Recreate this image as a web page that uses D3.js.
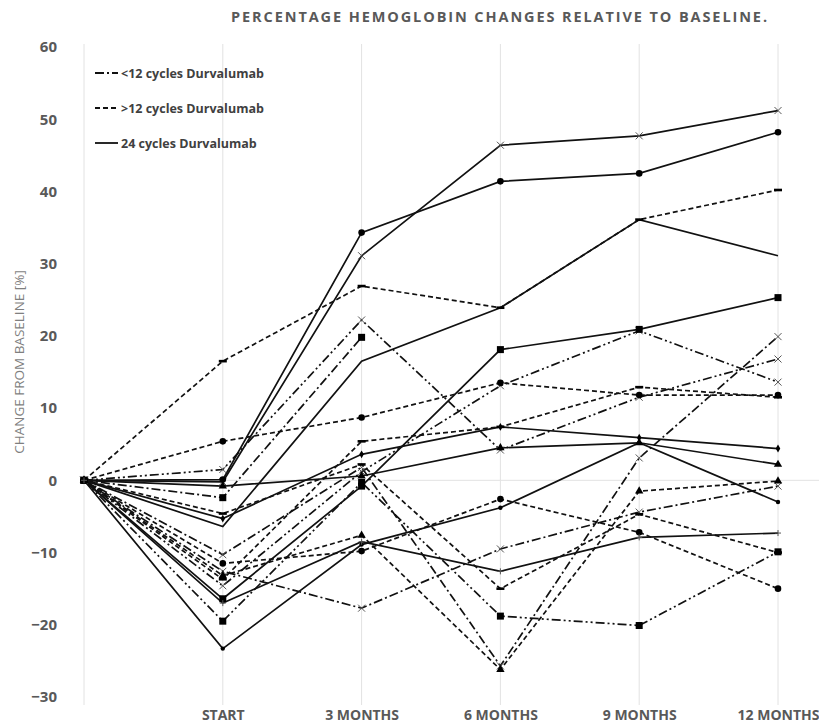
<!DOCTYPE html>
<html>
<head>
<meta charset="utf-8">
<script src="https://cdn.jsdelivr.net/npm/d3@7"></script>
<style>
  body { margin: 0; background: #fff; }
  svg { display: block; }
  text { font-family: "Open Sans", "Liberation Sans", sans-serif; }
</style>
</head>
<body>
<div id="plot"></div>
<script>
// categories on the x axis (first one is the baseline, no label)
var categories = ["BASE", "START", "3 MONTHS", "6 MONTHS", "9 MONTHS", "12 MONTHS"];
var yTicks = [-30, -20, -10, 0, 10, 20, 30, 40, 50, 60];
var legendLabels = ["<12 cycles Durvalumab", ">12 cycles Durvalumab", "24 cycles Durvalumab"];

// % change from baseline per patient: [base, start, 3m, 6m, 9m, 12m]
var lessThan12 = [
    [0, -2.4, 19.8, null, null, null],
    [0, 1.5, 22.2, 4.2, 11.5, 16.8],
    [0, -10.3, 1.8, -25.7, 3.1, 19.9],
    [0, -19.5, -0.3, -18.8, -20.1, -9.9],
    [0, -12.6, -17.7, -9.5, -4.4, -0.8],
    [0, -14.6, 1.2, 13.1, 20.7, 13.6]
];
var moreThan12 = [
    [0, 16.5, 26.9, 23.9, 36.1, 40.2],
    [0, 5.4, 8.7, 13.5, 11.8, 11.8],
    [0, -13.7, 5.4, 7.4, 12.9, 11.5],
    [0, -11.5, -9.8, -2.6, -7.2, -15],
    [0, -4.6, 2.2, -15, -4.7, -10],
    [0, -13.2, -7.6, -26.2, -1.5, -0.1]
];
var cycles24 = [
    [0, -0.2, 31.1, 46.4, 47.7, 51.2],
    [0, 0.1, 34.3, 41.4, 42.5, 48.2],
    [0, -6.4, 16.5, 23.9, 36.1, 31.1],
    [0, -16.4, -0.8, 18.1, 20.9, 25.3],
    [0, -5.3, 3.6, 7.4, 5.9, 4.4],
    [0, -0.8, 0.6, 4.5, 5.2, 2.2],
    [0, -23.3, -8.9, -3.8, 5.2, -3.0],
    [0, -17, -8.5, -12.6, -7.9, -7.3]
];

// look of each patient line (style only)
var lessMarks = ["square", "x", "x", "square", "x", "x"];
var lessDash = ["9,3,2,3", "9,3,2,3,2,3", "9,3,2,3", "9,3,2,3,2,3", "9,3,2,3", "9,3,2,3,2,3"];
var moreMarks = ["dash", "circle", "dash", "circle", "dash", "triangle"];
var solidMarks = ["x", "circle", "none", "square", "diamond", "triangle", "dot", "plus"];

var svgWidth = 819;
var svgHeight = 724;

var svg = d3.select("#plot")
    .append("svg")
    .attr("width", svgWidth)
    .attr("height", svgHeight);

var xScale = d3.scalePoint()
    .domain(categories)
    .range([84, 778]);

var yScale = d3.scaleLinear()
    .domain([-30, 60])
    .range([697, 47]);

// gridlines
svg.append("g").selectAll("line")
    .data(categories)
    .enter()
    .append("line")
    .attr("x1", d => xScale(d))
    .attr("x2", d => xScale(d))
    .attr("y1", yScale(60) - 3)
    .attr("y2", yScale(-30) + 8)
    .attr("stroke", "#e2e2e2")
    .attr("stroke-width", 1);

svg.append("line")
    .attr("x1", xScale("BASE"))
    .attr("x2", svgWidth)
    .attr("y1", yScale(0))
    .attr("y2", yScale(0))
    .attr("stroke", "#e2e2e2")
    .attr("stroke-width", 1);

// axes
var yAxis = svg.append("g")
    .attr("transform", "translate(61,0)")
    .call(d3.axisLeft(yScale).tickValues(yTicks).tickSize(0).tickPadding(4));
yAxis.select(".domain").remove();
yAxis.selectAll("text")
    .attr("fill", "#595959")
    .style("font-size", "15px")
    .style("font-weight", "bold");

var xAxis = svg.append("g")
    .attr("transform", "translate(0,697)")
    .call(d3.axisBottom(xScale).tickSize(0).tickPadding(13)
        .tickFormat(d => d === "BASE" ? "" : d));
xAxis.select(".domain").remove();
xAxis.selectAll("text")
    .attr("fill", "#595959")
    .style("font-size", "14px")
    .style("font-weight", "bold");

// titles
svg.append("text")
    .attr("x", 500)
    .attr("y", 22)
    .attr("text-anchor", "middle")
    .attr("fill", "#595959")
    .style("font-size", "14.5px")
    .style("font-weight", "bold")
    .style("letter-spacing", "1.9px")
    .text("PERCENTAGE HEMOGLOBIN CHANGES RELATIVE TO BASELINE.");

svg.append("text")
    .attr("transform", "translate(24,362) rotate(-90)")
    .attr("text-anchor", "middle")
    .attr("fill", "#7f7f7f")
    .style("font-size", "13.5px")
    .text("CHANGE FROM BASELINE [%]");

// lines
var lineGen = d3.line()
    .defined(d => d != null)
    .x((d, i) => xScale(categories[i]))
    .y(d => yScale(d));

var series = [];
lessThan12.forEach((v, i) => series.push({ values: v, dash: lessDash[i], mark: lessMarks[i] }));
moreThan12.forEach((v, i) => series.push({ values: v, dash: "5,3", mark: moreMarks[i] }));
cycles24.forEach((v, i) => series.push({ values: v, dash: null, mark: solidMarks[i] }));

var linesGroup = svg.append("g");
linesGroup.selectAll("path")
    .data(series)
    .enter()
    .append("path")
    .attr("d", d => lineGen(d.values))
    .attr("fill", "none")
    .attr("stroke", "#111")
    .attr("stroke-width", 1.7)
    .attr("stroke-dasharray", d => d.dash);

// markers
function drawMark(g, type, x, y) {
    if (type === "circle") {
        g.append("circle").attr("cx", x).attr("cy", y).attr("r", 3.3).attr("fill", "#000");
    } else if (type === "dot") {
        g.append("circle").attr("cx", x).attr("cy", y).attr("r", 2.2).attr("fill", "#000");
    } else if (type === "square") {
        g.append("rect").attr("x", x - 3.5).attr("y", y - 3.5).attr("width", 7).attr("height", 7).attr("fill", "#000");
    } else if (type === "triangle") {
        g.append("path").attr("transform", `translate(${x},${y})`)
            .attr("d", d3.symbol().type(d3.symbolTriangle).size(30)).attr("fill", "#000");
    } else if (type === "diamond") {
        g.append("path").attr("transform", `translate(${x},${y})`)
            .attr("d", d3.symbol().type(d3.symbolDiamond).size(18)).attr("fill", "#000");
    } else if (type === "x") {
        g.append("path").attr("transform", `translate(${x},${y})`)
            .attr("d", `M-3.5,-3.5L3.5,3.5M-3.5,3.5L3.5,-3.5`)
            .attr("stroke", "#555").attr("stroke-width", 1).attr("fill", "none");
    } else if (type === "plus") {
        g.append("path").attr("transform", `translate(${x},${y})`)
            .attr("d", `M-3,0L3,0M0,-3L0,3`)
            .attr("stroke", "#555").attr("stroke-width", 1).attr("fill", "none");
    } else if (type === "dash") {
        g.append("rect").attr("x", x - 4).attr("y", y - 1.3).attr("width", 8).attr("height", 2.6).attr("fill", "#000");
    }
}

var marksGroup = svg.append("g");
series.forEach(s => {
    s.values.forEach((v, i) => {
        if (v == null) return;
        drawMark(marksGroup, s.mark, xScale(categories[i]), yScale(v));
    });
});

// legend
var legendDash = ["9,3,2,3", "5,3", null];
var legend = svg.append("g");
legendLabels.forEach((label, i) => {
    var ly = 73 + i * 35;
    legend.append("line")
        .attr("x1", 95).attr("x2", 118)
        .attr("y1", ly).attr("y2", ly)
        .attr("stroke", "#111")
        .attr("stroke-width", 1.8)
        .attr("stroke-dasharray", legendDash[i]);
    legend.append("text")
        .attr("x", 121)
        .attr("y", ly + 4.5)
        .attr("fill", "#404040")
        .style("font-size", "12.5px")
        .style("font-weight", "bold")
        .text(label);
});
</script>
</body>
</html>
